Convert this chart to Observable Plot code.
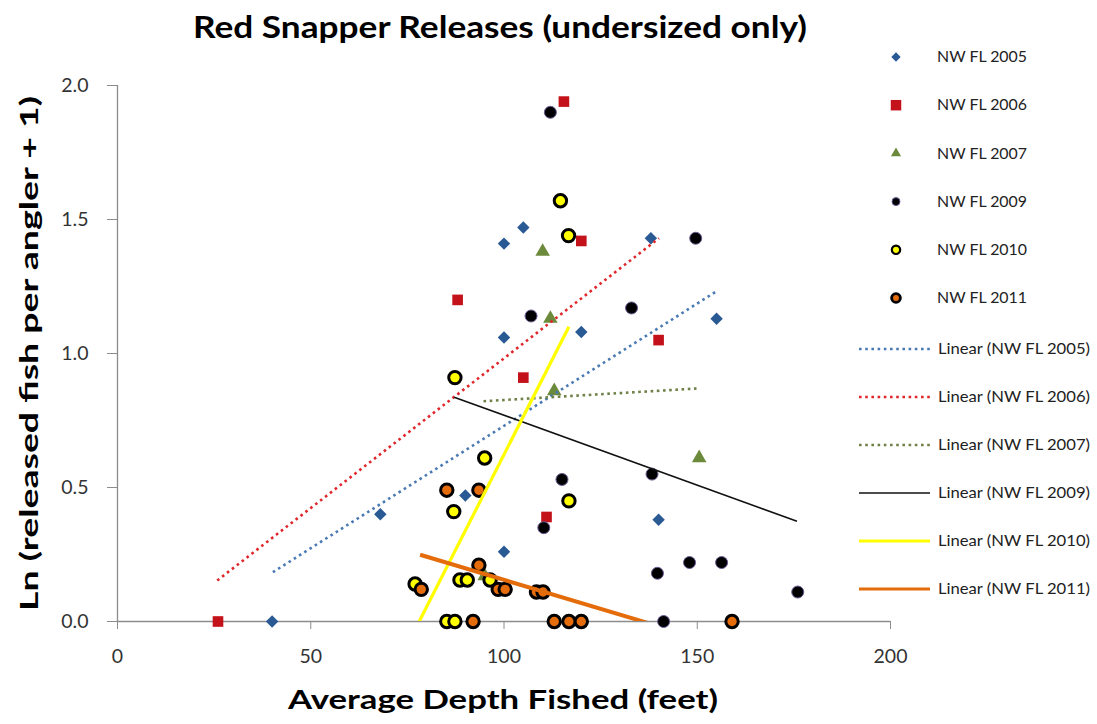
<!DOCTYPE html>
<html><head><meta charset="utf-8">
<script src="https://cdn.jsdelivr.net/npm/d3@7"></script>
<script src="https://cdn.jsdelivr.net/npm/@observablehq/plot@0.6"></script>
<style>body{margin:0;background:#fff} svg{display:block}</style>
</head><body><div id="chart"></div>
<script>
// ---- data ----
const seriesNames = ["NW FL 2005","NW FL 2006","NW FL 2007","NW FL 2009","NW FL 2010","NW FL 2011"];

const depth2005 = [40, 68, 90, 100, 100, 100, 105, 120, 138, 140, 155];
const ln2005    = [0, 0.40, 0.47, 1.41, 1.06, 0.26, 1.47, 1.08, 1.43, 0.38, 1.13];

const depth2006 = [26, 88, 105, 111, 115.5, 120, 140];
const ln2006    = [0, 1.20, 0.91, 0.39, 1.94, 1.42, 1.05];

const depth2007 = [95, 110, 112, 113, 150.5];
const ln2007    = [0.17, 1.38, 1.13, 0.86, 0.61];

const depth2009 = [112, 149.6, 107, 133, 115, 110.3, 141.3, 138.3, 139.7, 148, 156.3, 176];
const ln2009    = [1.90, 1.43, 1.14, 1.17, 0.53, 0.35, 0, 0.55, 0.18, 0.22, 0.22, 0.11];

const depth2010 = [114.6, 116.7, 87.3, 95, 116.8, 87, 77, 88.6, 90.5, 96.4, 85.2, 87.3];
const ln2010    = [1.57, 1.44, 0.91, 0.61, 0.45, 0.41, 0.14, 0.155, 0.155, 0.155, 0, 0];

const depth2011 = [85.2, 93.5, 78.6, 93.5, 98.5, 100.3, 108.4, 110.1, 92, 113, 116.8, 120, 159];
const ln2011    = [0.49, 0.49, 0.12, 0.21, 0.12, 0.12, 0.11, 0.11, 0, 0, 0, 0, 0];

// linear trendline end points (as drawn in the picture)
const trendX0 = [40.2, 25.8, 94.7, 87.1, 77, 78.3];
const trendY0 = [0.184, 0.153, 0.822, 0.837, -0.03, 0.249];
const trendX1 = [155.3, 140.1, 150.5, 175.8, 116.8, 159.1];
const trendY1 = [1.235, 1.43, 0.87, 0.374, 1.10, -0.10];

const xTicks = [0, 50, 100, 150, 200];
const yTicks = [0, 0.5, 1.0, 1.5, 2.0];

// ---- styles ----
const FONT = "Lato, 'Open Sans', sans-serif";
const toRows = (xs, ys) => xs.map((x, i) => ({x, y: ys[i]}));
const trends = seriesNames.map((s, i) => ({s, x1: trendX0[i], y1: trendY0[i], x2: trendX1[i], y2: trendY1[i]}));
const trendStyle = [
  {stroke: "#4a7ab4", strokeWidth: 2.6, strokeDasharray: "2.6,3.6"},
  {stroke: "#e0262b", strokeWidth: 2.6, strokeDasharray: "2.6,3.6"},
  {stroke: "#6f8048", strokeWidth: 2.6, strokeDasharray: "2.6,3.6"},
  {stroke: "#111111", strokeWidth: 1.6, strokeDasharray: null},
  {stroke: "#ffff00", strokeWidth: 3.2, strokeDasharray: null},
  {stroke: "#e46c0a", strokeWidth: 4, strokeDasharray: null}
];

const W = 1097, H = 724, mL = 117, mR = 207, mT = 85, mB = 103;

const chart = Plot.plot({
  width: W, height: H,
  marginLeft: mL, marginRight: mR, marginTop: mT, marginBottom: mB,
  style: {fontFamily: FONT, background: "#fff", overflow: "visible"},
  x: {domain: [0, 200], label: null},
  y: {domain: [0, 2], label: null},
  marks: [
    Plot.axisX({ticks: xTicks, tickSize: 8, tickPadding: 20, stroke: "#8c8c8c", fill: "#333", fontSize: 19.5, tickFormat: d => String(d), label: null}),
    Plot.axisY({ticks: yTicks, tickSize: 10, tickPadding: 19, stroke: "#8c8c8c", fill: "#333", fontSize: 19.5, tickFormat: d3.format(".1f"), label: null}),
    Plot.ruleY([0], {stroke: "#8c8c8c", strokeWidth: 1.3}),
    Plot.ruleX([0], {stroke: "#8c8c8c", strokeWidth: 1.3}),
    Plot.dot(toRows(depth2005, ln2005), {x: "x", y: "y", symbol: "diamond2", r: 5.6, fill: "#2a5a94", stroke: "none"}),
    Plot.dot(toRows(depth2006, ln2006), {x: "x", y: "y", symbol: "square", r: 6.0, fill: "#c4121b", stroke: "none"}),
    Plot.dot(toRows(depth2007, ln2007), {x: "x", y: "y", symbol: "triangle", r: 5.4, fill: "#6c8a3c", stroke: "none"}),
    Plot.dot(toRows(depth2009, ln2009), {x: "x", y: "y", symbol: "circle", r: 6.0, fill: "#000", stroke: "#6b5b95", strokeWidth: 1}),
    Plot.dot(toRows(depth2010, ln2010), {x: "x", y: "y", symbol: "circle", r: 6.2, fill: "#ffff00", stroke: "#000", strokeWidth: 3}),
    Plot.dot(toRows(depth2011, ln2011), {x: "x", y: "y", symbol: "circle", r: 6.2, fill: "#e46c0a", stroke: "#000", strokeWidth: 3}),
    ...trends.map((t, i) => Plot.link([t], {x1: "x1", y1: "y1", x2: "x2", y2: "y2", clip: true,
      stroke: trendStyle[i].stroke, strokeWidth: trendStyle[i].strokeWidth, strokeDasharray: trendStyle[i].strokeDasharray}))
  ]
});
document.getElementById("chart").appendChild(chart);

// ---- titles & legend ----
const svg = d3.select(chart);
svg.append("text").attr("x", 500).attr("y", 38).attr("text-anchor", "middle")
  .attr("font-family", FONT).attr("font-weight", "bold").attr("font-size", 30).attr("fill", "#000")
  .attr("textLength", 614).attr("lengthAdjust", "spacingAndGlyphs")
  .text("Red Snapper Releases (undersized only)");
svg.append("text").attr("x", 503).attr("y", 709).attr("text-anchor", "middle")
  .attr("font-family", FONT).attr("font-weight", "bold").attr("font-size", 26.5).attr("fill", "#000")
  .attr("textLength", 430).attr("lengthAdjust", "spacingAndGlyphs")
  .text("Average Depth Fished (feet)");
svg.append("text").attr("transform", "translate(38,353.5) rotate(-90)").attr("text-anchor", "middle")
  .attr("font-family", FONT).attr("font-weight", "bold").attr("font-size", 24).attr("fill", "#000")
  .attr("textLength", 515).attr("lengthAdjust", "spacingAndGlyphs")
  .text("Ln (released fish per angler + 1)");

const legMarkers = [
  {type: d3.symbolDiamond2, size: 55, fill: "#2a5a94", stroke: "none", sw: 0},
  {type: d3.symbolSquare, size: 110, fill: "#c4121b", stroke: "none", sw: 0},
  {type: d3.symbolTriangle, size: 45, fill: "#6c8a3c", stroke: "none", sw: 0},
  {type: d3.symbolCircle, size: 50, fill: "#000", stroke: "#6b5b95", sw: 1},
  {type: d3.symbolCircle, size: 55, fill: "#ffff00", stroke: "#000", sw: 2.2},
  {type: d3.symbolCircle, size: 60, fill: "#e46c0a", stroke: "#000", sw: 2.8}
];
const leg = svg.append("g").attr("font-family", FONT).attr("font-size", 15).attr("fill", "#222")
  .attr("text-anchor", "start");
seriesNames.forEach((name, i) => {
  const cy = 57 + i * 48.2;
  const m = legMarkers[i];
  leg.append("path").attr("d", d3.symbol(m.type, m.size)()).attr("transform", `translate(896,${cy})`)
    .attr("fill", m.fill).attr("stroke", m.stroke).attr("stroke-width", m.sw);
  leg.append("text").attr("x", 937).attr("y", cy).attr("dy", "0.35em")
    .attr("textLength", 90).attr("lengthAdjust", "spacingAndGlyphs").text(name);
});
seriesNames.forEach((name, i) => {
  const cy = 349 + i * 48;
  const st = trendStyle[i];
  leg.append("line").attr("x1", 859).attr("x2", 930).attr("y1", cy).attr("y2", cy)
    .attr("stroke", st.stroke).attr("stroke-width", Math.min(st.strokeWidth, 3.2))
    .attr("stroke-dasharray", st.strokeDasharray);
  leg.append("text").attr("x", 938).attr("y", cy).attr("dy", "0.35em")
    .attr("textLength", 152).attr("lengthAdjust", "spacingAndGlyphs").text(`Linear (${name})`);
});
</script>
</body></html>
